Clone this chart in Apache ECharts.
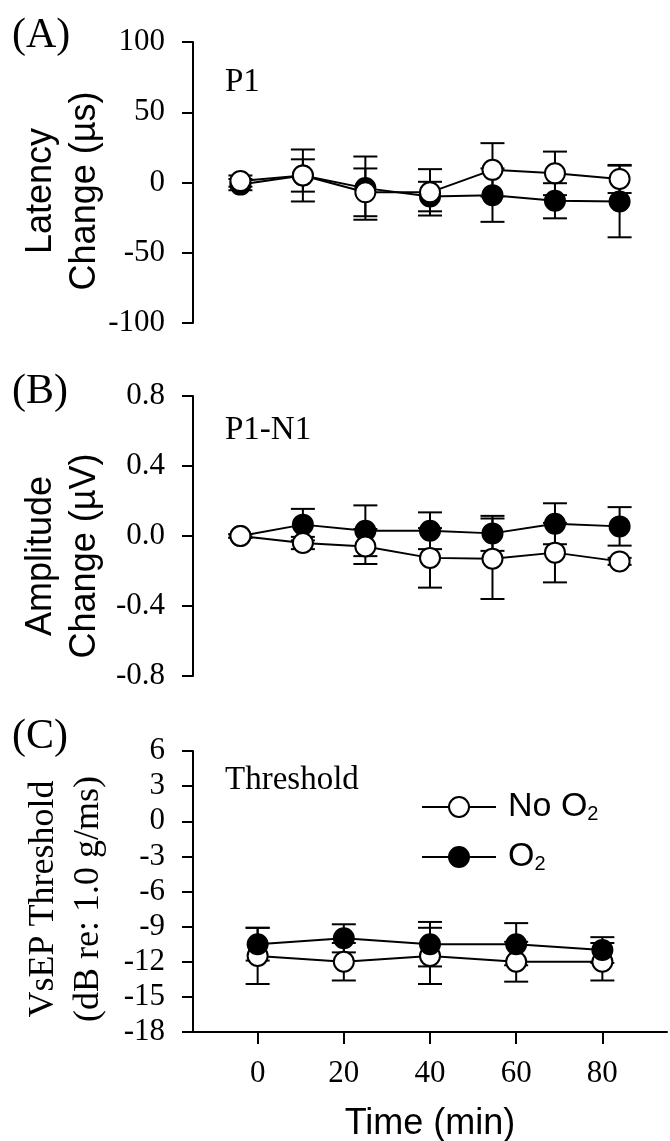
<!DOCTYPE html>
<html>
<head>
<meta charset="utf-8">
<script src="https://cdn.jsdelivr.net/npm/echarts@6/dist/echarts.min.js"></script>
<style>
html, body { margin: 0; padding: 0; background: #fff; }
#main { width: 670px; height: 1141px; }
</style>
</head>
<body>
<div id="main"></div>
<script>
// 时间点 (min)
var timeAB = [-4, 10.5, 25, 40, 54.5, 69, 84];
var timeC = [0, 20, 40, 60, 80];
var xTicks = [0, 20, 40, 60, 80];

// (A) P1 latency change (µs)
var latNoO2 = [1, 5, -7, -7, 9, 6.5, 2.5];
var latNoO2Err = [4, 18.5, 17, 16.5, 19, 15.5, 10];
var latO2 = [-1.5, 5, -4, -10, -9, -13, -13.5];
var latO2Err = [4, 11.5, 22.5, 10.5, 19, 12.5, 25.5];

// (B) P1-N1 amplitude change (µV)
var ampNoO2 = [0, -0.04, -0.06, -0.125, -0.13, -0.095, -0.145];
var ampNoO2Err = [0.01, 0.035, 0.1, 0.17, 0.23, 0.17, 0.02];
var ampO2 = [0, 0.065, 0.03, 0.03, 0.015, 0.07, 0.055];
var ampO2Err = [0.01, 0.09, 0.145, 0.105, 0.1, 0.117, 0.11];

// (C) VsEP threshold (dB re: 1.0 g/ms)
var thrNoO2 = [-11.5, -12, -11.5, -12, -12];
var thrNoO2Err = [2.4, 1.6, 2.4, 1.7, 1.6];
var thrO2 = [-10.5, -10, -10.5, -10.5, -11];
var thrO2Err = [1.4, 1.2, 1.9, 1.8, 1.1];

var SERIF = '"Liberation Serif", "Times New Roman", serif';
var SANS = '"Liberation Sans", Arial, sans-serif';

var main = document.getElementById('main');
var chart = echarts.init(main);

// 折线数据
function pts(t, m) {
    return t.map(function (x, i) { return [x, m[i]]; });
}
// 误差棒数据
function errs(t, m, e) {
    return t.map(function (x, i) { return [x, m[i] - e[i], m[i] + e[i]]; });
}

function renderErr(params, api) {
    var x = api.value(0);
    var lo = api.coord([x, api.value(1)]);
    var hi = api.coord([x, api.value(2)]);
    var w = 12;
    var st = { stroke: '#000', lineWidth: 2 };
    return {
        type: 'group',
        children: [
            { type: 'line', shape: { x1: lo[0], y1: lo[1], x2: hi[0], y2: hi[1] }, style: st },
            { type: 'line', shape: { x1: lo[0] - w, y1: lo[1], x2: lo[0] + w, y2: lo[1] }, style: st },
            { type: 'line', shape: { x1: hi[0] - w, y1: hi[1], x2: hi[0] + w, y2: hi[1] }, style: st }
        ]
    };
}

function lineSeries(name, idx, data, filled, z) {
    return {
        type: 'line',
        name: name,
        xAxisIndex: idx,
        yAxisIndex: idx,
        data: data,
        z: z,
        symbol: 'circle',
        symbolSize: 20,
        lineStyle: { color: '#000', width: 2 },
        itemStyle: filled
            ? { color: '#000', borderColor: '#000', borderWidth: 2 }
            : { color: '#fff', borderColor: '#000', borderWidth: 2 }
    };
}

// 误差棒用另外的名字, 免得图例拿它当图标
function errSeries(name, idx, data) {
    return {
        type: 'custom',
        name: name + ' SE',
        xAxisIndex: idx,
        yAxisIndex: idx,
        data: data,
        z: 2,
        itemStyle: { color: '#000' },
        renderItem: renderErr,
        encode: { x: 0, y: [1, 2] }
    };
}

var grids = [
    { left: 193, right: 3, top: 42, height: 281, outerBoundsMode: 'none' },
    { left: 193, right: 3, top: 396, height: 280, outerBoundsMode: 'none' },
    { left: 193, right: 3, top: 751, height: 281, outerBoundsMode: 'none' }
];

function xAxisFor(idx, show) {
    return {
        type: 'value',
        gridIndex: idx,
        min: -15,
        max: 95,
        show: show,
        splitLine: { show: false },
        axisLine: { onZero: false, lineStyle: { color: '#000', width: 2 } },
        axisTick: { customValues: xTicks, length: 12, lineStyle: { color: '#000', width: 2 } },
        axisLabel: {
            customValues: xTicks,
            margin: 26,
            color: '#000',
            fontFamily: SERIF,
            fontSize: 31
        },
        name: show ? 'Time (min)' : '',
        nameLocation: 'middle',
        nameGap: 74,
        nameTextStyle: { color: '#000', fontFamily: SANS, fontSize: 36 }
    };
}

function yAxisFor(idx, min, max, interval, fmt) {
    return {
        type: 'value',
        gridIndex: idx,
        min: min,
        max: max,
        interval: interval,
        splitLine: { show: false },
        axisLine: { show: true, onZero: false, lineStyle: { color: '#000', width: 2 } },
        axisTick: { show: true, length: 11, lineStyle: { color: '#000', width: 2 } },
        axisLabel: {
            margin: 28,
            color: '#000',
            fontFamily: SERIF,
            fontSize: 31,
            formatter: fmt
        }
    };
}

function txt(x, y, s, font) {
    return {
        type: 'text', x: x, y: y, silent: true,
        style: { text: s, font: font, fill: '#000', textAlign: 'left', textVerticalAlign: 'middle' }
    };
}

var option = {
    backgroundColor: '#fff',
    animation: false,
    grid: grids,
    xAxis: [xAxisFor(0, false), xAxisFor(1, false), xAxisFor(2, true)],
    yAxis: [
        yAxisFor(0, -100, 100, 50),
        yAxisFor(1, -0.8, 0.8, 0.4, function (v) { return v.toFixed(1); }),
        yAxisFor(2, -18, 6, 3)
    ],
    legend: {
        orient: 'vertical',
        left: 421,
        top: 790,
        padding: 0,
        itemWidth: 74,
        itemHeight: 25,
        itemGap: 16,
        data: ['No O2', 'O2'],
        formatter: function (n) {
            return n === 'O2' ? 'O{s|2}' : 'No O{s|2}';
        },
        textStyle: {
            color: '#000',
            fontFamily: SANS,
            fontSize: 34,
            lineHeight: 34,
            padding: [0, 0, 0, 7],
            rich: {
                s: { fontFamily: SANS, fontSize: 20, lineHeight: 34, verticalAlign: 'bottom', padding: [10, 0, 0, 0], color: '#000' }
            }
        }
    },
    graphic: [
        txt(12, 36, '(A)', '42px ' + SERIF),
        txt(12, 392, '(B)', '42px ' + SERIF),
        txt(12, 737, '(C)', '42px ' + SERIF),
        txt(225, 82, 'P1', '33px ' + SERIF),
        txt(225, 430, 'P1-N1', '33px ' + SERIF),
        txt(225, 780, 'Threshold', '33px ' + SERIF),
        {
            type: 'text', x: 63, y: 191, rotation: Math.PI / 2, silent: true,
            style: { text: 'Latency\nChange (µs)', font: '36px ' + SANS, fill: '#000', textAlign: 'center', textVerticalAlign: 'middle', lineHeight: 44 }
        },
        {
            type: 'text', x: 63, y: 556, rotation: Math.PI / 2, silent: true,
            style: { text: 'Amplitude\nChange (µV)', font: '36px ' + SANS, fill: '#000', textAlign: 'center', textVerticalAlign: 'middle', lineHeight: 44 }
        },
        {
            type: 'text', x: 66, y: 899, rotation: Math.PI / 2, silent: true,
            style: { text: 'VsEP Threshold\n(dB re: 1.0 g/ms)', font: '36px ' + SERIF, fill: '#000', textAlign: 'center', textVerticalAlign: 'middle', lineHeight: 45 }
        }
    ],
    series: [
        // (A)
        errSeries('O2', 0, errs(timeAB, latO2, latO2Err)),
        errSeries('No O2', 0, errs(timeAB, latNoO2, latNoO2Err)),
        lineSeries('O2', 0, pts(timeAB, latO2), true, 3),
        lineSeries('No O2', 0, pts(timeAB, latNoO2), false, 4),
        // (B)
        errSeries('O2', 1, errs(timeAB, ampO2, ampO2Err)),
        errSeries('No O2', 1, errs(timeAB, ampNoO2, ampNoO2Err)),
        lineSeries('O2', 1, pts(timeAB, ampO2), true, 3),
        lineSeries('No O2', 1, pts(timeAB, ampNoO2), false, 4),
        // (C)
        errSeries('No O2', 2, errs(timeC, thrNoO2, thrNoO2Err)),
        errSeries('O2', 2, errs(timeC, thrO2, thrO2Err)),
        lineSeries('No O2', 2, pts(timeC, thrNoO2), false, 3),
        lineSeries('O2', 2, pts(timeC, thrO2), true, 4)
    ]
};

chart.setOption(option);
</script>
</body>
</html>
